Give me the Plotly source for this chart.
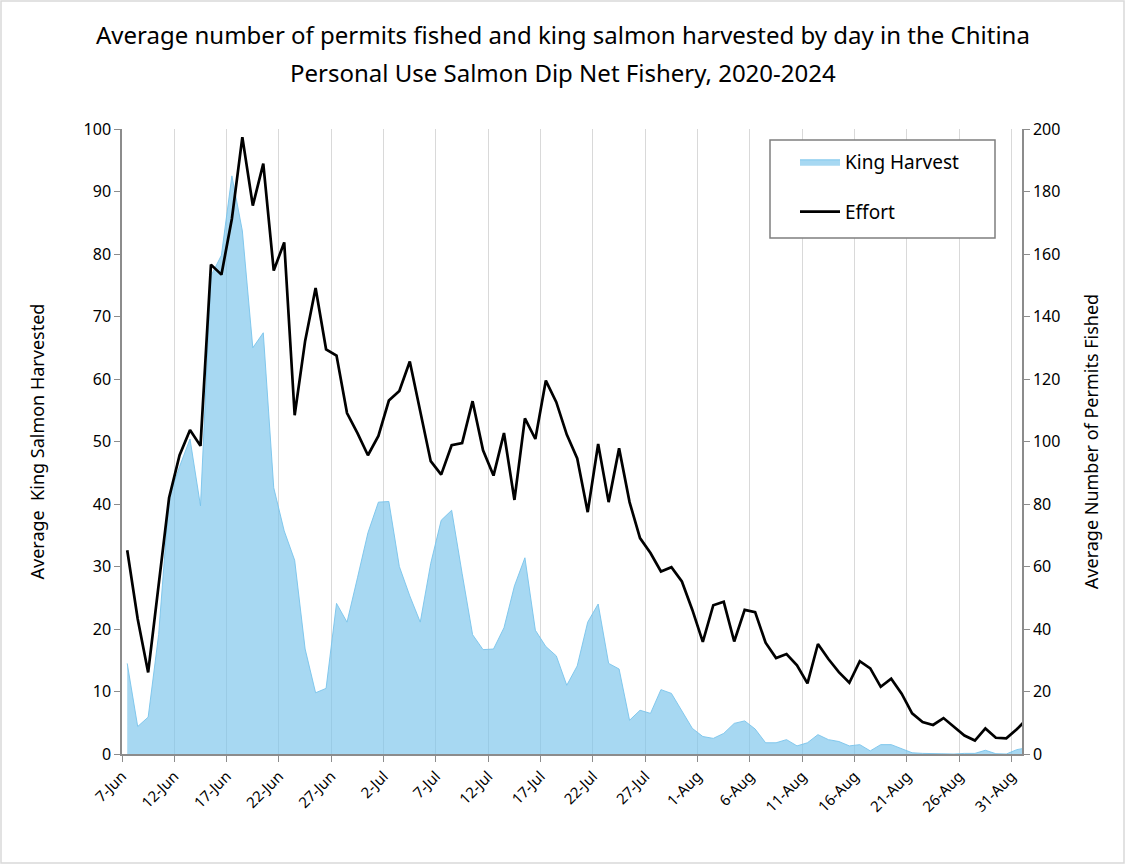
import pandas as pd
import plotly.graph_objects as go

# Daily averages, 7-Jun through 1-Sep (points plotted at mid-day)
days = pd.date_range("2024-06-07 12:00", periods=87, freq="D")

king_harvest = [
    14.5, 4.4, 5.9, 19.1, 41.0, 46.0, 50.4, 39.7, 76.5, 79.8,
    92.5, 83.7, 65.0, 67.4, 42.6, 35.7, 31.0, 16.8, 9.8, 10.5,
    24.1, 21.1, 28.2, 35.4, 40.3, 40.4, 30.0, 25.3, 21.1, 30.5,
    37.4, 39.0, 28.9, 19.1, 16.7, 16.8, 20.2, 26.9, 31.4, 19.8,
    17.2, 15.7, 11.0, 14.1, 21.1, 24.0, 14.5, 13.6, 5.4, 7.0,
    6.5, 10.3, 9.7, 7.0, 4.1, 2.8, 2.5, 3.3, 4.9, 5.3,
    4.0, 1.8, 1.8, 2.3, 1.3, 1.8, 3.1, 2.3, 2.0, 1.3,
    1.5, 0.5, 1.5, 1.5, 0.8, 0.2, 0.1, 0.05, 0.0, 0.0,
    0.1, 0.1, 0.6, 0.05, 0.0, 0.7, 1.0,
]

effort = [
    65.2, 43.2, 26.1, 54.0, 82.0, 95.6, 103.7, 98.6, 156.6, 153.4,
    171.3, 197.4, 175.5, 188.9, 154.7, 163.7, 108.4, 132.2, 149.1, 129.5,
    127.5, 109.1, 102.7, 95.6, 101.8, 113.1, 116.2, 125.6, 109.3, 93.7,
    89.4, 98.8, 99.5, 112.9, 97.2, 89.1, 102.7, 81.3, 107.4, 100.8,
    119.5, 112.6, 102.2, 94.6, 77.4, 99.2, 80.6, 97.8, 80.6, 69.1,
    64.3, 58.4, 59.8, 55.2, 46.1, 35.9, 47.6, 48.7, 36.0, 46.1,
    45.4, 35.6, 30.7, 32.0, 28.4, 22.6, 35.2, 30.4, 26.2, 22.8,
    29.7, 27.4, 21.5, 24.1, 19.3, 13.0, 10.2, 9.3, 11.5, 8.6,
    5.9, 4.3, 8.2, 5.2, 5.0, 7.9, 11.3,
]

tick_dates = pd.date_range("2024-06-07", periods=18, freq="5D")
tick_labels = [
    "7-Jun", "12-Jun", "17-Jun", "22-Jun", "27-Jun", "2-Jul", "7-Jul",
    "12-Jul", "17-Jul", "22-Jul", "27-Jul", "1-Aug", "6-Aug", "11-Aug",
    "16-Aug", "21-Aug", "26-Aug", "31-Aug",
]
left_ticks = list(range(0, 101, 10))
right_ticks = list(range(0, 201, 20))

title_lines = [
    "Average number of permits fished and king salmon harvested by day in the Chitina",
    "Personal Use Salmon Dip Net Fishery, 2020-2024",
]

TITLEFONT = "Liberation Sans Narrow, Arial Narrow, Noto Sans, sans-serif"
TICKFONT = "Noto Sans, Open Sans, sans-serif"
AXIS_GREY = "#8c8c8c"

fig = go.Figure()
fig.add_trace(go.Scatter(
    x=days, y=king_harvest, name="King Harvest", mode="lines",
    fill="tozeroy", fillcolor="rgba(120,195,235,0.65)",
    line=dict(color="rgba(120,195,235,0.9)", width=1),
    legendgroup="a", yaxis="y",
))
fig.add_trace(go.Scatter(
    x=days, y=effort, name="Effort", mode="lines",
    line=dict(color="black", width=2.7),
    legendgroup="b", yaxis="y2",
))

L, R, T, B = 122, 103, 129, 110
W, H = 1125, 864
pw, ph = W - L - R, H - T - B


def px_x(p):
    return (p - L) / pw


def px_y(p):
    return (H - B - p) / ph


title_y = [35, 72]
annotations = [
    dict(text=t, xref="paper", yref="paper", x=px_x(W / 2), y=px_y(yy),
         xanchor="center", yanchor="middle", showarrow=False,
         font=dict(family=TITLEFONT, size=24, color="black"))
    for t, yy in zip(title_lines, title_y)
]

fig.update_layout(
    width=W, height=H,
    margin=dict(l=L, r=R, t=T, b=B),
    paper_bgcolor="white", plot_bgcolor="white",
    annotations=annotations,
    xaxis=dict(
        type="date",
        range=["2024-06-07", "2024-09-01"],
        tickvals=list(tick_dates), ticktext=tick_labels,
        tickangle=-45,
        tickfont=dict(family=TICKFONT, size=15, color="black"),
        showgrid=True, gridcolor="#d9d9d9", gridwidth=1.3,
        showline=True, linecolor=AXIS_GREY, linewidth=1.5,
        ticks="outside", ticklen=6, tickcolor=AXIS_GREY, tickwidth=1.3,
        zeroline=False,
    ),
    yaxis=dict(
        range=[0, 100], tickvals=left_ticks,
        title=dict(text="Average  King Salmon Harvested",
                   font=dict(family=TICKFONT, size=18, color="black"), standoff=34),
        tickfont=dict(family=TICKFONT, size=16, color="black"),
        showgrid=False, zeroline=False,
        showline=True, linecolor=AXIS_GREY, linewidth=1.5,
        ticks="outside", ticklen=6, tickcolor=AXIS_GREY, tickwidth=1.3,
    ),
    yaxis2=dict(
        range=[0, 200], tickvals=right_ticks,
        overlaying="y", side="right",
        title=dict(text="Average Number of Permits Fished",
                   font=dict(family=TICKFONT, size=18, color="black"), standoff=26),
        tickfont=dict(family=TICKFONT, size=16, color="black"),
        showgrid=False, zeroline=False,
        showline=True, linecolor=AXIS_GREY, linewidth=1.5,
        ticks="outside", ticklen=6, tickcolor=AXIS_GREY, tickwidth=1.3,
    ),
    legend=dict(
        x=px_x(795), y=px_y(143), xanchor="left", yanchor="top",
        borderwidth=0, bgcolor="rgba(0,0,0,0)",
        font=dict(family=TICKFONT, size=19, color="black"),
        traceorder="grouped", tracegroupgap=22,
        itemwidth=40,
    ),
    showlegend=True,
    shapes=[
        dict(
            type="rect", xref="paper", yref="paper",
            x0=px_x(770), x1=px_x(995), y0=px_y(238), y1=px_y(140),
            line=dict(color="#7f7f7f", width=1.5), fillcolor="white",
            layer="above",
        ),
        dict(
            type="rect", xref="paper", yref="paper",
            x0=px_x(1), x1=px_x(W - 1), y0=px_y(H - 1), y1=px_y(1),
            line=dict(color="#d9d9d9", width=1.5), fillcolor="rgba(0,0,0,0)",
            layer="below",
        ),
    ],
)

fig.write_html(
    "out.html",
    config={"displayModeBar": False},
    post_script="document.body.style.margin='0px';document.body.style.overflow='hidden';",
)
